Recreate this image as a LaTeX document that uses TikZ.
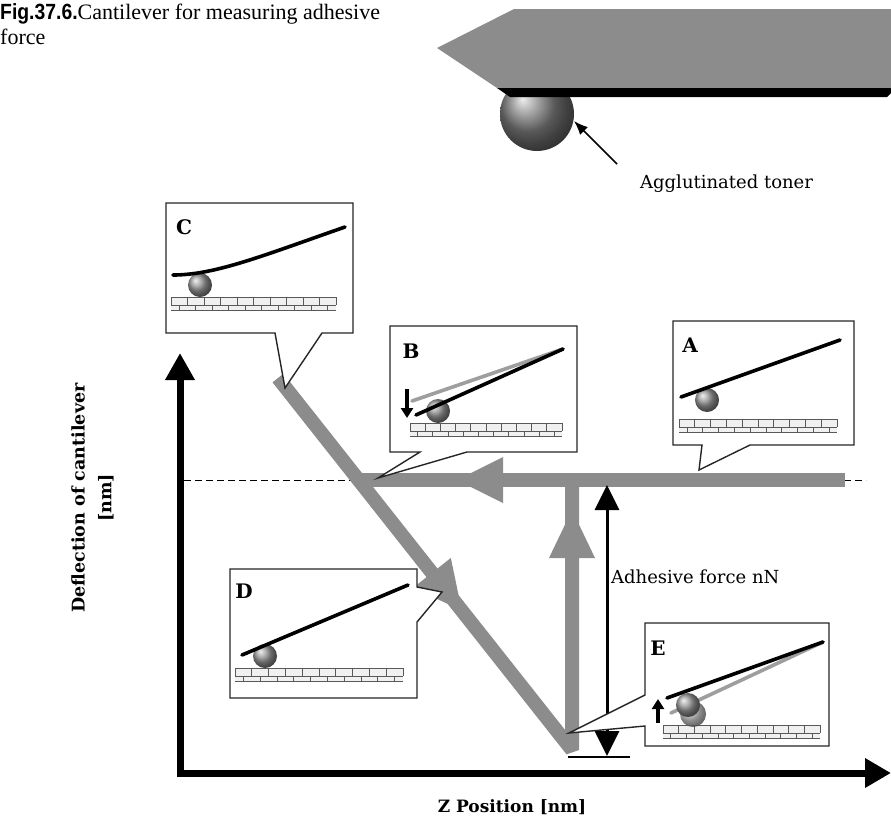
\documentclass[tikz,border=0pt]{standalone}
\usepackage{fontspec}
\setmainfont{DejaVu Serif}
\newfontfamily\capserif{Liberation Serif}
\newfontfamily\capsans[FakeStretch=0.88]{Liberation Sans}
\usetikzlibrary{calc,arrows.meta}

\definecolor{bandgray}{gray}{0.55}
\definecolor{brickgray}{gray}{0.35}
\definecolor{levergray}{gray}{0.62}

\tikzset{
  band/.style={draw=bandgray, line width=14pt},
  bandhead/.style={fill=bandgray, draw=none},
  callout/.style={draw=black!85, fill=white, line width=1.4pt, line join=miter},
  lever/.style={draw=black, line width=3.6pt, line cap=round},
  ghostlever/.style={draw=levergray, line width=3.6pt, line cap=round},
  brick/.style={draw=brickgray, line width=0.8pt},
  toner/.style={ball color=black!40},
  tag/.style={font=\bfseries\fontsize{20}{20}\selectfont, inner sep=0pt},
  axislabel/.style={font=\bfseries\fontsize{17.5}{20}\selectfont, inner sep=0pt},
}

% substrate strip: #1 left x, #2 right x, #3 top y
\newcommand{\brickbar}[3]{%
  \fill[black!6] (#1,#3) rectangle (#2,#3+14);
  \draw[brick] (#1,#3) -- (#2,#3) (#1,#3+8) -- (#2,#3+8) (#1,#3+13) -- (#2,#3+13);
  \foreach \k in {0,...,10} {\draw[brick] ({#1+\k*(#2-#1)/10},#3) -- ++(0,8);}
  \foreach \k in {0,...,9} {\draw[brick] ({#1+(\k+0.5)*(#2-#1)/10},#3+8) -- ++(0,5);}
}

\begin{document}
\begin{tikzpicture}[x=1pt,y=-1pt]
\useasboundingbox (0,0) rectangle (891,827);

% ---------- caption ----------
\node[anchor=north west, align=left, inner sep=0pt,
      font=\capserif\fontsize{22}{25}\selectfont] (caption) at (0,3)
  {{\capsans\bfseries Fig.37.6.}Cantilever for measuring adhesive\\force};

% ---------- cantilever with toner ----------
\shade[ball color=black!50] (537,114) circle (37);
\fill[bandgray] (437,48) -- (514,9) -- (891,9) -- (891,88) -- (497,88) -- cycle;
\fill[black] (497,88) -- (891,88) -- (891,93) -- (887,97) -- (510,97) -- cycle;
\coordinate (tonertip) at (574,121);
\node[font=\fontsize{18}{18}\selectfont, anchor=west, inner sep=0pt] (tonerlabel) at (640,184) {Agglutinated toner};
\coordinate (tonertail) at (617,164);
\draw[line width=1.6pt, -{Latex[length=14pt,width=11pt]}] (tonertail) -- (tonertip);

% ---------- axes ----------
\coordinate (ytip) at (180,353);
\coordinate (origin) at (180,773);
\coordinate (xtip) at (891,773);
\draw[line width=7pt, line join=miter,
      {Triangle[length=27pt,width=28pt]}-{Triangle[length=26pt,width=28pt]}]
  (ytip) -- (origin) -- (xtip);
\node[axislabel, rotate=90] (ylab1) at (78,498) {Deflection of cantilever};
\node[axislabel, rotate=90] (ylab2) at (106,498) {[nm]};
\node[axislabel, font=\bfseries\fontsize{17}{20}\selectfont] (xlab) at (512,807) {Z Position [nm]};

% ---------- force curve ----------
\coordinate (dashL) at (184,480);
\coordinate (dashR) at (866,480);
\draw[line width=1pt, dash pattern=on 7pt off 4pt] (dashL) -- (dashR);

\coordinate (ctop) at (278,378);
\coordinate (vbot) at (572,750);
\coordinate (vtop) at (572,480);
\coordinate (hleft) at (362,480);
\coordinate (hright) at (845,480);
\draw[band, line join=bevel] (ctop) -- (vbot) -- (vtop);
\draw[band] (hleft) -- (hright);

% arrowheads on the curve
\fill[bandhead] (457,480) -- (503,457) -- (503,503) -- cycle;
\fill[bandhead] (572,510) -- (549,558) -- (595,558) -- cycle;
\coordinate (dtip) at ($(ctop)!0.625!(vbot)$);
\coordinate (dbase) at ($(dtip)!48pt!(ctop)$);
\fill[bandhead] (dtip) -- ($(dbase)!24pt!90:(dtip)$) -- ($(dbase)!24pt!-90:(dtip)$) -- cycle;

% adhesive force span
\coordinate (fTop) at (607,485);
\coordinate (fBot) at (607,756);
\draw[line width=3pt, {Triangle[length=25pt,width=24pt]}-{Triangle[length=25pt,width=24pt]}] (fTop) -- (fBot);
\coordinate (baseL) at (568,757);
\coordinate (baseR) at (630,757);
\draw[line width=1.5pt] (baseL) -- (baseR);
\node[font=\fontsize{18}{18}\selectfont, anchor=west, inner sep=0pt] (forcelab) at (611,577) {Adhesive force nN};

% ---------- callout C ----------
\draw[callout] (166,203) -- (353,203) -- (353,333) -- (322,333) -- (285,388) -- (275,333) -- (166,333) -- cycle;
\node[tag] (tagC) at (184,227) {C};
\brickbar{171}{336}{297}
\shade[toner] (200,285) circle (12);
\draw[lever] (173,275) .. controls (215,275) and (262,256) .. (345,227);

% ---------- callout B ----------
\draw[callout] (390,326) -- (577,326) -- (577,452) -- (467,452) -- (378,478) -- (420,452) -- (390,452) -- cycle;
\node[tag] (tagB) at (411,351) {B};
\brickbar{410}{562}{423}
\shade[toner] (438,411) circle (12);
\draw[ghostlever] (412,401) -- (563,349);
\draw[lever] (416,415) -- (563,349);
\coordinate (pushT) at (407,389);
\coordinate (pushB) at (407,418);
\draw[line width=3.5pt, -{Triangle[length=10pt,width=12pt]}] (pushT) -- (pushB);

% ---------- callout A ----------
\draw[callout] (673,321) -- (854,321) -- (854,445) -- (750,445) -- (699,470) -- (702,445) -- (673,445) -- cycle;
\node[tag] (tagA) at (690,345) {A};
\brickbar{679}{837}{419}
\shade[toner] (707,400) circle (12);
\draw[lever] (681,397) -- (840,340);

% ---------- callout D ----------
\draw[callout] (230,569) -- (417,569) -- (417,587) -- (442,592) -- (417,622) -- (417,698) -- (230,698) -- cycle;
\node[tag] (tagD) at (244,591) {D};
\brickbar{235}{403}{668}
\shade[toner] (265,656) circle (12);
\draw[lever] (242,655) -- (408,585);

% ---------- callout E ----------
\draw[callout] (645,623) -- (829,623) -- (829,746) -- (645,746) -- (645,726) -- (569,733) -- (645,695) -- cycle;
\node[tag] (tagE) at (658,648) {E};
\brickbar{663}{820}{725}
\shade[ball color=black!30, opacity=0.85] (693,714) circle (13);
\draw[ghostlever] (671,713) -- (823,642);
\shade[toner] (688,705) circle (12);
\draw[lever] (667,698) -- (823,642);
\coordinate (pullB) at (658,723);
\coordinate (pullT) at (658,699);
\draw[line width=3.5pt, -{Triangle[length=10pt,width=12pt]}] (pullB) -- (pullT);

\end{tikzpicture}
\end{document}
